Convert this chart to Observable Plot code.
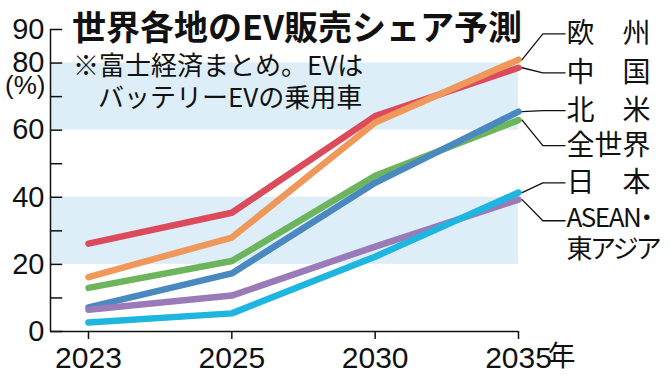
<!DOCTYPE html>
<html><head><meta charset="utf-8">
<script src="https://cdn.jsdelivr.net/npm/d3@7"></script>
<script src="https://cdn.jsdelivr.net/npm/@observablehq/plot@0.6"></script>
<style>
body{margin:0;background:#fff;}
#wrap{position:relative;width:670px;height:377px;overflow:hidden;}
#title{position:absolute;left:72px;top:1px;font:bold 34px "Noto Sans CJK JP";color:#111;white-space:nowrap;}
#note{position:absolute;left:73px;top:48px;font:26px/32px "Noto Sans CJK JP";color:#111;white-space:nowrap;}
#note span{padding-left:25px;}
#chart text{font-feature-settings:"palt";}
#chart tspan{letter-spacing:-1.5px;}
</style></head><body>
<div id="wrap"><div id="chart"></div>
<div id="title">世界各地のEV販売シェア予測</div>
<div id="note">※富士経済まとめ。EVは<br><span>バッテリーEVの乗用車</span></div>
</div>
<script>
const years = ["2023", "2025", "2030", "2035"];
const yearSuffix = "年";
const europe = [16.2, 28.0, 62.3, 81.0];
const china = [26.2, 35.4, 64.2, 78.6];
const northAmerica = [7.2, 17.3, 44.3, 65.5];
const world = [13.0, 21.0, 46.4, 63.0];
const japan = [2.7, 5.4, 22.3, 41.4];
const asean = [6.5, 10.7, 25.3, 39.3];
const labelText = ["欧　州", "中　国", "北　米", "全世界", "日　本", "ASEAN・\n東アジア"];
const labelY = [88.7, 77.1, 65.8, 55.4, 44.3, 33.0];
const yTicks = [0, 10, 20, 30, 40, 50, 60, 70, 80, 90];
const yLabels = [0, 20, 40, 60, 80, 90];
const bands = [[20, 40], [60, 80]];
const unitLabel = "(%)";

const colors = {europe: "#f0975a", china: "#dc4b5c", northAmerica: "#4a88c0", world: "#6db55d", japan: "#1db6e0", asean: "#9a7bb8"};
const drawOrder = [
  {key: "china", values: china},
  {key: "europe", values: europe},
  {key: "world", values: world},
  {key: "northAmerica", values: northAmerica},
  {key: "asean", values: asean},
  {key: "japan", values: japan}
];
const labelSeries = [europe, china, northAmerica, world, japan, asean];

const last = years.length - 1;
const xMin = -0.265;
const tickLen = 0.085; // in x units (~12px)
const lineMarks = drawOrder.map(s => Plot.line(s.values.map((v, i) => ({i, v})), {
  x: "i", y: "v", stroke: colors[s.key], strokeWidth: 6.5, strokeLinecap: "round", strokeLinejoin: "round"
}));
const leaderMarks = labelSeries.map((vals, k) => Plot.line([
  {x: last + 0.025, y: vals[last]},
  {x: last + 0.17, y: labelY[k]},
  {x: last + 0.325, y: labelY[k]}
], {x: "x", y: "y", stroke: "#111", strokeWidth: 1.3}));
const labelRows = labelText.map((t, k) => ({t, y: labelY[k], multi: t.includes("\n")}));

const chart = Plot.plot({
  width: 670, height: 377,
  marginLeft: 50, marginRight: 152, marginTop: 29, marginBottom: 46,
  style: {fontFamily: "Liberation Sans", color: "#111", background: "#fff"},
  x: {domain: [xMin, last], type: "linear"},
  y: {domain: [0, 90]},
  marks: [
    Plot.rect(bands, {y1: d => d[0], y2: d => d[1], fill: "#ddeef9"}),
    Plot.ruleY(yTicks, {y: d => d, x1: xMin, x2: xMin + tickLen, stroke: "#111", strokeWidth: 1.5}),
    Plot.ruleX([xMin], {y1: 0, y2: 90, stroke: "#111", strokeWidth: 1.5}),
    Plot.ruleY([0], {stroke: "#111", strokeWidth: 1.5}),
    Plot.axisY({ticks: yLabels, tickSize: 0, tickPadding: 6, fontSize: 29, fontWeight: 300}),
    Plot.text([unitLabel], {frameAnchor: "left", y: () => 73.3, dx: -5, textAnchor: "end", fontSize: 26}),
    Plot.axisX({ticks: years.map((d, i) => i), tickFormat: i => years[i], tickSize: 8, tickPadding: 7, fontSize: 30, stroke: "#111", strokeWidth: 1.5}),
    Plot.text([yearSuffix], {x: () => last, y: () => 0, dx: 29, dy: 26, textAnchor: "start", fontSize: 28, fontFamily: "Noto Sans CJK JP"}),
    ...lineMarks,
    ...leaderMarks,
    Plot.text(labelRows.filter(d => !d.multi), {x: () => last + 0.335, y: "y", text: "t", textAnchor: "start", lineAnchor: "middle", fontSize: 28, fontFamily: "Noto Sans CJK JP", fill: "#111"}),
    Plot.text(labelRows.filter(d => d.multi), {x: () => last + 0.335, y: "y", text: "t", textAnchor: "start", lineAnchor: "top", dy: -15, lineHeight: 1.17, fontSize: 26, fontFamily: "Noto Sans CJK JP", fill: "#111"})
  ]
});
document.getElementById("chart").appendChild(chart);
</script>
</body></html>
